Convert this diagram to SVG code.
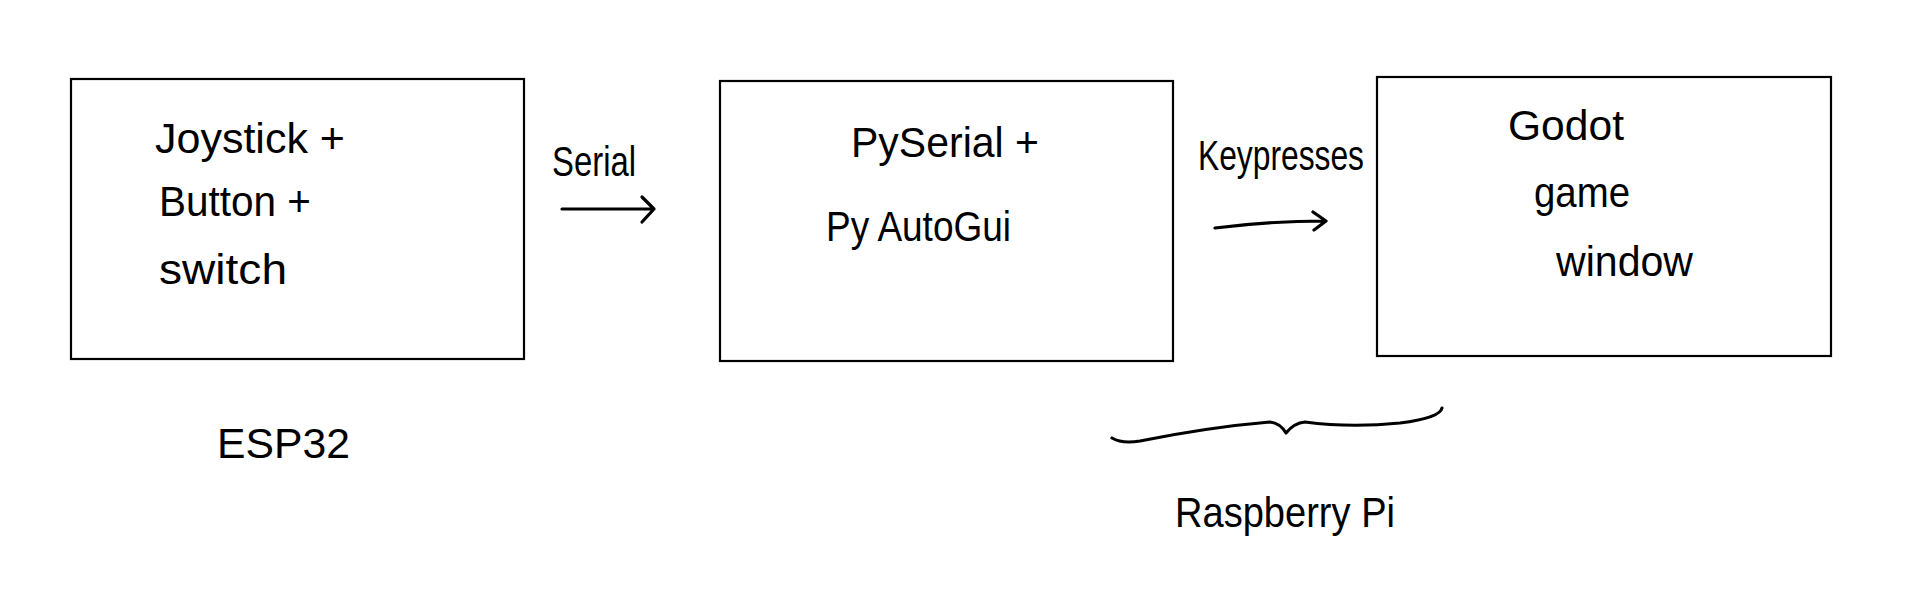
<svg xmlns="http://www.w3.org/2000/svg" width="1914" height="602" viewBox="0 0 1914 602">
<style>
.box{fill:none;stroke:#000;stroke-width:2.2}
.t{font-family:"Liberation Sans","DejaVu Sans",sans-serif;font-size:43px;fill:#000}
.c{fill:none;stroke:#000;stroke-width:3.2;stroke-linecap:round;stroke-linejoin:round}
</style>
<rect width="1914" height="602" fill="#fff"/>
<g id="esp32">
<rect class="box" x="71" y="79" width="453" height="280"/>
<text class="t" x="155" y="153" textLength="190" lengthAdjust="spacingAndGlyphs">Joystick +</text>
<text class="t" x="159" y="216" textLength="152" lengthAdjust="spacingAndGlyphs">Button +</text>
<text class="t" x="159" y="284" textLength="128" lengthAdjust="spacingAndGlyphs">switch</text>
<text class="t" x="217" y="458" textLength="133" lengthAdjust="spacingAndGlyphs">ESP32</text>
</g>
<g id="pyserial">
<rect class="box" x="720" y="81" width="453" height="280"/>
<text class="t" x="851" y="157" textLength="188" lengthAdjust="spacingAndGlyphs">PySerial +</text>
<text class="t" x="826" y="241" textLength="185" lengthAdjust="spacingAndGlyphs">Py AutoGui</text>
</g>
<g id="godot">
<rect class="box" x="1377" y="77" width="454" height="279"/>
<text class="t" x="1508" y="140" textLength="116" lengthAdjust="spacingAndGlyphs">Godot</text>
<text class="t" x="1534" y="207" textLength="96" lengthAdjust="spacingAndGlyphs">game</text>
<text class="t" x="1556" y="276" textLength="137" lengthAdjust="spacingAndGlyphs">window</text>
</g>
<g id="raspberry-pi">
<text class="t" x="1175" y="527" textLength="220" lengthAdjust="spacingAndGlyphs">Raspberry Pi</text>
</g>
<g id="connectors">
<path class="c" d="M562 209 L654 209 M642 197 L654 209 L642 222"/>
<text class="t" x="552" y="176" textLength="84" lengthAdjust="spacingAndGlyphs">Serial</text>
<path class="c" d="M1215 228 Q1270 221 1325 221 M1313 212 L1326 221 L1314 230"/>
<text class="t" x="1198" y="170" textLength="166" lengthAdjust="spacingAndGlyphs">Keypresses</text>
<path class="c" d="M1112 438 Q1122 444 1140 441 Q1210 427 1270 422 Q1280 423 1286 433 Q1294 423 1305 422 Q1350 428 1400 423 Q1440 418 1442 408"/>
</g>
</svg>
